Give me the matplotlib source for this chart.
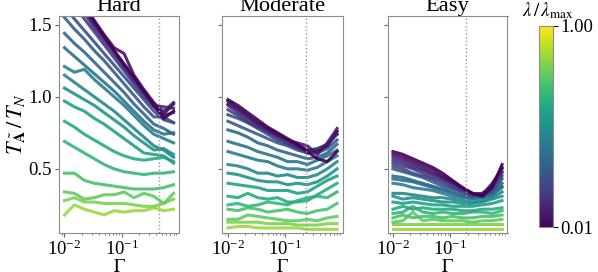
import numpy as np
import matplotlib
import matplotlib.pyplot as plt
from matplotlib.colors import LogNorm

plt.rcParams['font.family'] = 'serif'
plt.rcParams['font.serif'] = ['Liberation Serif', 'DejaVu Serif']
plt.rcParams['mathtext.fontset'] = 'stix'
plt.rcParams['font.size'] = 13.5

# Gamma grid (x values)
gamma = [0.01, 0.0149, 0.0222, 0.0331, 0.0493, 0.0735, 0.1095, 0.163, 0.243, 0.362, 0.54, 0.80]

# lambda / lambda_max for each curve
lam = [0.01, 0.0124, 0.0155, 0.0192, 0.0239, 0.0297, 0.0369, 0.0459, 0.057, 0.0709,
       0.0881, 0.1096, 0.136, 0.169, 0.211, 0.262, 0.325, 0.405, 0.50]

hard = [
    [1.82, 1.72, 1.62, 1.52, 1.42, 1.32, 1.22, 1.13, 1.04, 0.94, 0.85, 0.90],
    [1.84, 1.74, 1.64, 1.53, 1.43, 1.34, 1.30, 1.15, 1.05, 0.96, 0.88, 0.95],
    [1.80, 1.70, 1.60, 1.50, 1.41, 1.32, 1.23, 1.14, 1.03, 0.94, 0.93, 0.92],
    [1.78, 1.68, 1.58, 1.48, 1.39, 1.30, 1.20, 1.11, 1.02, 0.95, 0.90, 0.96],
    [1.72, 1.63, 1.54, 1.45, 1.36, 1.27, 1.18, 1.09, 1.00, 0.93, 0.87, 0.89],
    [1.62, 1.54, 1.46, 1.38, 1.30, 1.22, 1.14, 1.06, 0.98, 0.90, 0.84, 0.82],
    [1.55, 1.47, 1.40, 1.32, 1.25, 1.17, 1.09, 1.01, 0.93, 0.86, 0.86, 0.82],
    [1.44, 1.37, 1.31, 1.24, 1.17, 1.10, 1.03, 0.95, 0.88, 0.81, 0.78, 0.74],
    [1.34, 1.28, 1.22, 1.16, 1.10, 1.04, 0.97, 0.90, 0.83, 0.77, 0.74, 0.75],
    [1.21, 1.17, 1.19, 1.12, 1.06, 1.00, 0.94, 0.87, 0.80, 0.74, 0.71, 0.68],
    [1.15, 1.10, 1.05, 1.00, 0.95, 0.90, 0.84, 0.78, 0.72, 0.66, 0.63, 0.58],
    [1.06, 1.02, 0.98, 0.94, 0.89, 0.84, 0.79, 0.73, 0.68, 0.63, 0.64, 0.60],
    [0.97, 0.93, 0.90, 0.85, 0.81, 0.76, 0.71, 0.66, 0.61, 0.60, 0.59, 0.54],
    [0.83, 0.79, 0.74, 0.70, 0.66, 0.62, 0.59, 0.57, 0.56, 0.57, 0.58, 0.55],
    [0.69, 0.65, 0.61, 0.57, 0.53, 0.50, 0.48, 0.47, 0.46, 0.47, 0.47, 0.48],
    [0.47, 0.47, 0.42, 0.40, 0.39, 0.38, 0.37, 0.36, 0.36, 0.36, 0.37, 0.39],
    [0.34, 0.33, 0.29, 0.30, 0.32, 0.32, 0.34, 0.30, 0.33, 0.31, 0.26, 0.33],
    [0.28, 0.30, 0.27, 0.27, 0.26, 0.26, 0.26, 0.25, 0.24, 0.24, 0.26, 0.29],
    [0.18, 0.25, 0.22, 0.20, 0.18, 0.21, 0.20, 0.21, 0.21, 0.23, 0.21, 0.22],
]

moderate = [
    [0.98, 0.94, 0.89, 0.84, 0.79, 0.75, 0.71, 0.67, 0.62, 0.57, 0.55, 0.62],
    [0.97, 0.92, 0.87, 0.82, 0.78, 0.74, 0.70, 0.66, 0.63, 0.62, 0.66, 0.76],
    [0.95, 0.91, 0.86, 0.81, 0.77, 0.73, 0.70, 0.68, 0.66, 0.60, 0.68, 0.78],
    [0.94, 0.89, 0.84, 0.80, 0.76, 0.72, 0.68, 0.65, 0.61, 0.63, 0.67, 0.74],
    [0.91, 0.87, 0.82, 0.78, 0.74, 0.70, 0.67, 0.64, 0.62, 0.64, 0.66, 0.76],
    [0.875, 0.85, 0.82, 0.79, 0.76, 0.73, 0.70, 0.67, 0.63, 0.64, 0.67, 0.74],
    [0.83, 0.80, 0.77, 0.74, 0.71, 0.68, 0.66, 0.63, 0.61, 0.61, 0.64, 0.70],
    [0.77, 0.75, 0.72, 0.68, 0.66, 0.63, 0.61, 0.59, 0.57, 0.58, 0.61, 0.67],
    [0.69, 0.67, 0.65, 0.62, 0.60, 0.58, 0.55, 0.55, 0.53, 0.56, 0.59, 0.63],
    [0.62, 0.60, 0.58, 0.56, 0.55, 0.52, 0.50, 0.50, 0.49, 0.51, 0.55, 0.59],
    [0.53, 0.52, 0.50, 0.47, 0.47, 0.45, 0.46, 0.44, 0.44, 0.46, 0.50, 0.55],
    [0.47, 0.46, 0.44, 0.42, 0.41, 0.41, 0.39, 0.40, 0.39, 0.41, 0.45, 0.50],
    [0.40, 0.39, 0.38, 0.37, 0.35, 0.35, 0.35, 0.33, 0.34, 0.38, 0.42, 0.45],
    [0.31, 0.30, 0.33, 0.30, 0.29, 0.30, 0.27, 0.27, 0.28, 0.32, 0.36, 0.40],
    [0.25, 0.26, 0.24, 0.25, 0.27, 0.26, 0.25, 0.28, 0.30, 0.31, 0.30, 0.34],
    [0.22, 0.21, 0.23, 0.22, 0.20, 0.21, 0.22, 0.20, 0.19, 0.21, 0.22, 0.26],
    [0.15, 0.15, 0.18, 0.17, 0.16, 0.15, 0.14, 0.14, 0.15, 0.14, 0.16, 0.17],
    [0.13, 0.13, 0.13, 0.13, 0.12, 0.12, 0.12, 0.11, 0.11, 0.11, 0.12, 0.12],
    [0.09, 0.10, 0.10, 0.09, 0.09, 0.09, 0.09, 0.09, 0.08, 0.08, 0.08, 0.08],
]

easy = [
    [0.62, 0.60, 0.57, 0.54, 0.51, 0.47, 0.42, 0.37, 0.33, 0.31, 0.37, 0.53],
    [0.60, 0.58, 0.55, 0.52, 0.49, 0.45, 0.41, 0.37, 0.33, 0.32, 0.39, 0.51],
    [0.58, 0.56, 0.53, 0.50, 0.47, 0.44, 0.40, 0.36, 0.33, 0.32, 0.40, 0.50],
    [0.56, 0.54, 0.51, 0.49, 0.46, 0.43, 0.40, 0.36, 0.32, 0.33, 0.38, 0.48],
    [0.54, 0.52, 0.50, 0.47, 0.44, 0.42, 0.38, 0.35, 0.32, 0.33, 0.37, 0.47],
    [0.52, 0.50, 0.47, 0.45, 0.43, 0.40, 0.37, 0.34, 0.31, 0.32, 0.35, 0.45],
    [0.50, 0.48, 0.46, 0.44, 0.41, 0.38, 0.36, 0.34, 0.32, 0.31, 0.34, 0.43],
    [0.45, 0.44, 0.42, 0.40, 0.38, 0.36, 0.34, 0.32, 0.30, 0.31, 0.34, 0.40],
    [0.43, 0.42, 0.41, 0.39, 0.37, 0.35, 0.33, 0.31, 0.30, 0.30, 0.32, 0.38],
    [0.40, 0.39, 0.37, 0.36, 0.35, 0.33, 0.31, 0.30, 0.29, 0.30, 0.32, 0.37],
    [0.33, 0.33, 0.32, 0.31, 0.30, 0.30, 0.29, 0.28, 0.27, 0.28, 0.30, 0.34],
    [0.31, 0.29, 0.30, 0.29, 0.28, 0.27, 0.27, 0.26, 0.26, 0.27, 0.29, 0.31],
    [0.27, 0.26, 0.27, 0.26, 0.25, 0.25, 0.24, 0.24, 0.24, 0.25, 0.26, 0.28],
    [0.22, 0.24, 0.22, 0.23, 0.22, 0.22, 0.22, 0.21, 0.21, 0.22, 0.22, 0.23],
    [0.19, 0.20, 0.24, 0.20, 0.19, 0.20, 0.19, 0.19, 0.20, 0.20, 0.19, 0.21],
    [0.16, 0.18, 0.16, 0.17, 0.17, 0.16, 0.17, 0.16, 0.16, 0.17, 0.17, 0.18],
    [0.13, 0.14, 0.20, 0.14, 0.15, 0.14, 0.14, 0.14, 0.13, 0.14, 0.14, 0.15],
    [0.12, 0.12, 0.12, 0.12, 0.12, 0.12, 0.12, 0.12, 0.12, 0.12, 0.12, 0.12],
    [0.08, 0.08, 0.08, 0.08, 0.08, 0.08, 0.08, 0.08, 0.08, 0.08, 0.08, 0.08],
]

titles = ['Hard', 'Moderate', 'Easy']
panels = [hard, moderate, easy]
vlines = [0.45, 0.23, 0.19]

W, H = 598, 272
fig = plt.figure(figsize=(W / 100, H / 100), dpi=100)
lefts = [59, 222.5, 387.5]
norm = LogNorm(vmin=0.01, vmax=1.0)
cmap = plt.get_cmap('viridis')

axes = []
for i in range(3):
    ax = fig.add_axes([lefts[i] / W, 39 / H, 120 / W, 217 / H])
    axes.append(ax)
    # light colours first so the dark curves sit on top
    for l, y in reversed(list(zip(lam, panels[i]))):
        ax.plot(gamma, y, color=cmap(norm(l)), lw=2.2, alpha=0.9)
    ax.axvline(vlines[i], color='0.6', ls=':', lw=1)
    ax.set_xscale('log')
    ax.set_ylim(0.055, 1.56)
    ax.set_yticks([0.5, 1.0, 1.5])
    ax.set_title(titles[i], pad=2)
    ax.set_xlabel(r'$\Gamma$', labelpad=0)
    for s in ax.spines.values():
        s.set_edgecolor('0.55')
    ax.tick_params(colors='0.4', labelcolor='black', length=3, pad=2)
    ax.tick_params(which='minor', colors='0.4', length=1.5)
    if i > 0:
        ax.set_yticklabels([])

axes[0].set_ylabel(r'$T_{\tilde{\mathbf{A}}}\,/\,T_N$', fontsize=16, labelpad=1)

cax = fig.add_axes([539 / W, 45 / H, 14 / W, 201 / H])
sm = matplotlib.cm.ScalarMappable(norm=norm, cmap=cmap)
cb = fig.colorbar(sm, cax=cax)
cb.set_ticks([0.01, 1.0])
cb.set_ticklabels(['0.01', '1.00'])
cb.minorticks_off()
cb.outline.set_edgecolor('0.55')
cax.tick_params(pad=2)
fig.text(548 / W, 1 - 11 / H, r'$\lambda\,/\,\lambda_{\max}$', ha='center', va='center')

fig.savefig('out.png', dpi=100)
